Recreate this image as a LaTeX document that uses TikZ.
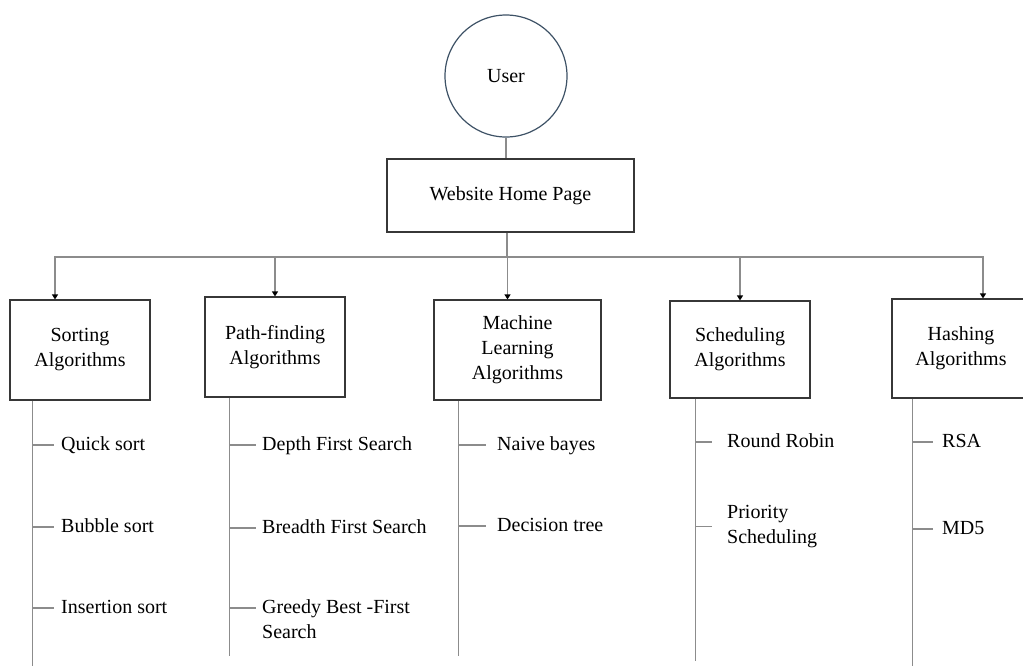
\documentclass[tikz,border=0pt]{standalone}
\usepackage{fontspec}
\setmainfont{Liberation Serif}
\usetikzlibrary{arrows.meta}
\definecolor{boxline}{RGB}{55,55,55}
\definecolor{linkgray}{RGB}{140,140,140}
\definecolor{ring}{RGB}{62,82,102}

\begin{document}
\begin{tikzpicture}[x=1pt,y=-1pt,font=\fontsize{20}{25}\selectfont,
  box/.style={draw=boxline,line width=1.2pt,align=center,inner sep=0pt},
  item/.style={anchor=west,inner sep=0pt,text height=14pt,text depth=4pt},
  itemtwo/.style={anchor=north west,align=left,inner sep=0pt},
  link/.style={draw=linkgray,line width=1.8pt},
  tip/.style={link,-{Triangle[length=5pt,width=6pt,color=black]}}]
  \useasboundingbox (0,0) rectangle (1023,665);
  % top of the tree
  \node[circle,draw=ring,line width=1.2pt,minimum size=122pt,inner sep=0pt] (user) at (506,76) {User};
  \node[box,minimum width=247pt,minimum height=73pt] (home) at (510.5,195.5) {Website Home Page};
  \draw[link] (user.south) -- (user.south |- home.north);
  % categories
  \node[box,minimum width=140pt,minimum height=100pt] (sort) at (80,350) {Sorting\\Algorithms};
  \node[box,minimum width=140pt,minimum height=100pt] (path) at (275,347) {Path-finding\\Algorithms};
  \node[box,minimum width=167pt,minimum height=100pt] (ml) at (517.5,350) {Machine\\Learning\\Algorithms};
  \node[box,minimum width=140pt,minimum height=97pt] (sched) at (740,349.5) {Scheduling\\Algorithms};
  \node[box,minimum width=138pt,minimum height=99pt] (hash) at (961,348.5) {Hashing\\Algorithms};
  \coordinate (bar) at (507,257);
  \draw[link] (home.south -| bar) -- (bar);
  \foreach \n/\dx in {sort/-25,path/0,ml/-10,sched/0,hash/22}
    \draw[tip] (bar) -| ([xshift=\dx pt]\n.north);
  % branch lines
  \coordinate (sline) at ([xshift=23pt]sort.south west);
  \coordinate (pline) at ([xshift=25pt]path.south west);
  \coordinate (mline) at ([xshift=25pt]ml.south west);
  \coordinate (cline) at ([xshift=26pt]sched.south west);
  \coordinate (hline) at ([xshift=21pt]hash.south west);
  \draw[link] (sline) -- ++(0,265);
  \draw[link] (pline) -- ++(0,258);
  \draw[link] (mline) -- ++(0,255);
  \draw[link] (cline) -- ++(0,262);
  \draw[link] (hline) -- ++(0,267);
  % leaves
  \node[item] (qs) at (61,445) {Quick sort};
  \node[item] (bs) at (61,527) {Bubble sort};
  \node[item] (is) at (61,608) {Insertion sort};
  \node[item] (dfs) at (262,445) {Depth First Search};
  \node[item] (bfs) at (262,528) {Breadth First Search};
  \node[itemtwo] (gbfs) at (262,599) {Greedy Best -First\\Search};
  \node[item] (nb) at (497,445) {Naive bayes};
  \node[item] (dt) at (497,526) {Decision tree};
  \node[item] (rr) at (727,442) {Round Robin};
  \node[itemtwo] (ps) at (727,505) {Priority\\Scheduling};
  \node[item] (rsa) at (942,442) {RSA};
  \node[item] (md) at (942,529) {MD5};
  \foreach \n in {qs,bs,is} \draw[link] (sline |- \n.west) -- ++(22,0);
  \foreach \n in {dfs,bfs} \draw[link] (pline |- \n.west) -- ++(27,0);
  \draw[link] ([yshift=-9pt]pline |- gbfs.north) -- ++(27,0);
  \foreach \n in {nb,dt} \draw[link] (mline |- \n.west) -- ++(28,0);
  \draw[link] (cline |- rr.west) -- ++(17,0);
  \draw[link] (cline |- ps.west) -- ++(17,0);
  \foreach \n in {rsa,md} \draw[link] (hline |- \n.west) -- ++(21,0);
\end{tikzpicture}
\end{document}
